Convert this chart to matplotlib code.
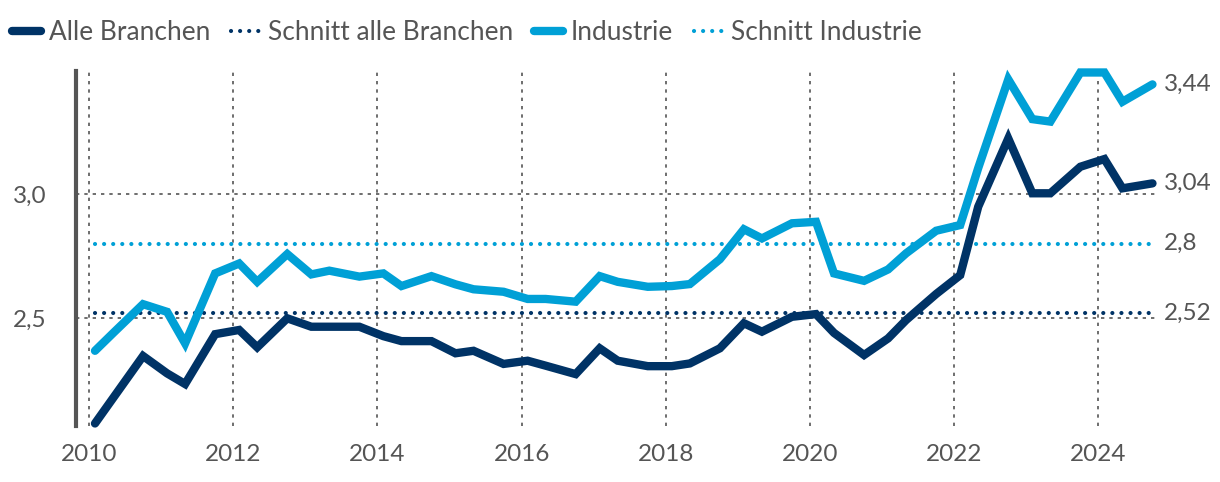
import matplotlib
matplotlib.use("Agg")
import matplotlib.pyplot as plt
from matplotlib.lines import Line2D
import numpy as np

plt.rcParams['font.family'] = ['Lato', 'DejaVu Sans']

years = list(range(2010, 2025))
month_offsets = [1/12, 4/12, 9/12]   # Feb, May, Oct survey waves

alle_branchen = [
    2.075, 2.177, 2.347,
    2.277, 2.234, 2.435,
    2.452, 2.382, 2.499,
    2.465, 2.465, 2.465,
    2.427, 2.407, 2.407,
    2.358, 2.368, 2.315,
    2.328, 2.308, 2.274,
    2.378, 2.328, 2.306,
    2.306, 2.317, 2.378,
    2.479, 2.445, 2.505,
    2.516, 2.440, 2.351,
    2.418, 2.492, 2.597,
    2.673, 2.949, 3.224,
    3.003, 3.003, 3.110,
    3.141, 3.023, 3.043,
]
industrie = [
    2.368, 2.439, 2.556,
    2.525, 2.398, 2.680,
    2.720, 2.646, 2.758,
    2.676, 2.691, 2.667,
    2.680, 2.629, 2.669,
    2.636, 2.616, 2.606,
    2.577, 2.577, 2.566,
    2.669, 2.646, 2.626,
    2.629, 2.637, 2.737,
    2.858, 2.821, 2.882,
    2.888, 2.680, 2.650,
    2.696, 2.761, 2.852,
    2.875, 3.105, 3.462,
    3.302, 3.292, 3.490,
    3.490, 3.372, 3.442,
]
schnitt_alle = 2.52
schnitt_industrie = 2.8
end_labels = ["3,44", "3,04", "2,8", "2,52"]
x_ticks = list(range(2010, 2025, 2))
y_ticks = [2.5, 3.0]
y_ticklabels = ["2,5", "3,0"]
legend_labels = ["Alle Branchen", "Schnitt alle Branchen", "Industrie", "Schnitt Industrie"]

x = np.array([y + m for y in years for m in month_offsets])

DARK = "#003366"
LIGHT = "#00a0d6"
GREY = "#555555"
FS = 17.5
LFS = 18.9
DOTS = (0, (0.01, 2.17))

fig = plt.figure(figsize=(12.2, 4.82), dpi=100)
ax = fig.add_axes([76/1220, 1 - 425.7/482, (1155-76)/1220, (425.7-71)/482])

ax.set_xlim(2009.82, 2024.785)
ax.set_ylim(2.066, 3.496)

for t in x_ticks:
    ax.axvline(t, color=GREY, lw=1.2, ls=(0, (2, 3)), zorder=1)
for t in y_ticks:
    ax.axhline(t, color=GREY, lw=1.2, ls=(0, (2, 3)), zorder=1)

ax.plot([x[0], x[-1]], [schnitt_alle]*2, color=DARK, lw=3, ls=DOTS,
        dash_capstyle='round', zorder=2)
ax.plot([x[0], x[-1]], [schnitt_industrie]*2, color=LIGHT, lw=3, ls=DOTS,
        dash_capstyle='round', zorder=2)
ax.plot(x, alle_branchen, color=DARK, lw=6, solid_capstyle='round',
        solid_joinstyle='miter', zorder=3, clip_on=False)
ax.plot(x, industrie, color=LIGHT, lw=6, solid_capstyle='round',
        solid_joinstyle='miter', zorder=3, clip_on=False)

ax.set_xticks(x_ticks)
ax.set_xticklabels([str(t) for t in x_ticks])
ax.set_yticks(y_ticks)
ax.set_yticklabels(y_ticklabels)
ax.tick_params(axis='both', length=0, labelsize=FS, labelcolor=GREY)
ax.tick_params(axis='y', pad=21)
ax.tick_params(axis='x', pad=13)

for s in ['top', 'right', 'bottom']:
    ax.spines[s].set_visible(False)
ax.spines['left'].set_color(GREY)
ax.spines['left'].set_linewidth(3)

end_vals = [industrie[-1], alle_branchen[-1], schnitt_industrie, schnitt_alle]
for lab, v in zip(end_labels, end_vals):
    ax.annotate(lab, xy=(x[-1], v), xytext=(8, 0), textcoords='offset points',
                ha='left', va='center', fontsize=FS, color=GREY, annotation_clip=False)

handles = [
    Line2D([], [], color=DARK, lw=6, solid_capstyle='round'),
    Line2D([], [], color=DARK, lw=3, ls=DOTS, dash_capstyle='round'),
    Line2D([], [], color=LIGHT, lw=6, solid_capstyle='round'),
    Line2D([], [], color=LIGHT, lw=3, ls=DOTS, dash_capstyle='round'),
]
leg = fig.legend(handles, legend_labels, loc='center left', bbox_to_anchor=(12/1220, 1 - 33/482),
                 ncol=4, frameon=False, fontsize=LFS, handlelength=1.1, handletextpad=0.3,
                 columnspacing=0.8, borderaxespad=0, borderpad=0)
for t in leg.get_texts():
    t.set_color(GREY)

fig.savefig("out.png", dpi=100)
